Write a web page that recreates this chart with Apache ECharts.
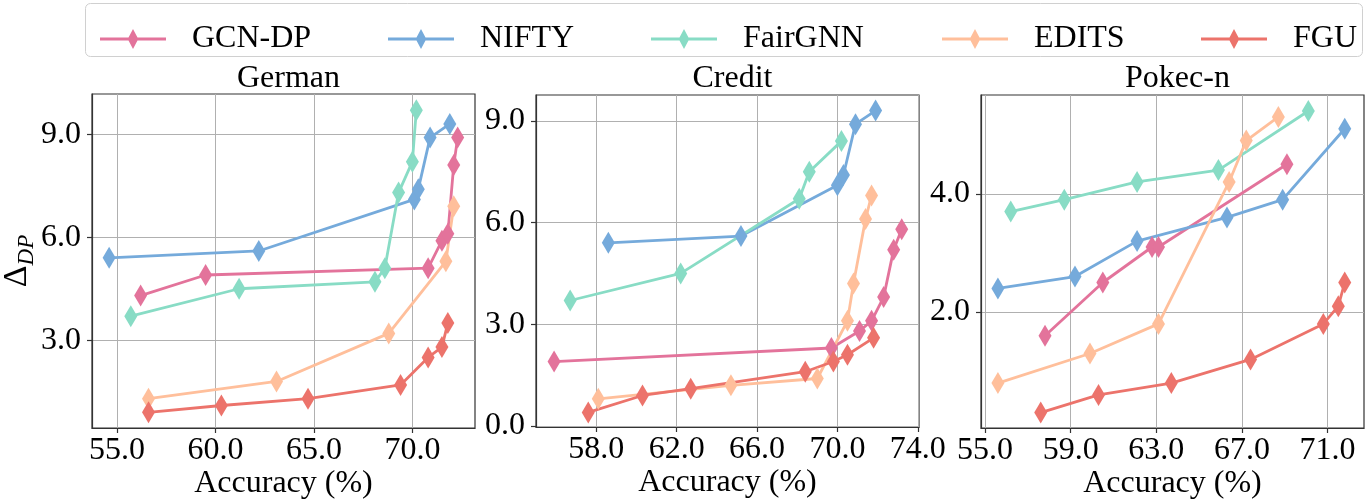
<!DOCTYPE html>
<html>
<head>
<meta charset="utf-8">
<script src="https://cdn.jsdelivr.net/npm/echarts@6/dist/echarts.min.js"></script>
<style>
html,body{margin:0;padding:0;background:#fff;}
#chart{width:1372px;height:499px;}
</style>
</head>
<body>
<div id="chart"></div>
<script>
// ---------------- data ----------------
const methods = ['GCN-DP', 'NIFTY', 'FairGNN', 'EDITS', 'FGU'];
const panels = ['German', 'Credit', 'Pokec-n'];

const germanGCN = [[56.2,4.3],[59.5,4.9],[70.8,5.1],[71.5,5.9],[71.8,6.1],[72.1,8.1],[72.3,8.9]];
const germanNIFTY = [[54.6,5.4],[62.2,5.6],[70.1,7.1],[70.3,7.4],[70.9,8.9],[71.9,9.3]];
const germanFairGNN = [[55.7,3.7],[61.2,4.5],[68.1,4.7],[68.6,5.1],[69.3,7.3],[70.0,8.2],[70.2,9.7]];
const germanEDITS = [[56.6,1.3],[63.1,1.8],[68.8,3.2],[71.7,5.3],[72.1,6.9]];
const germanFGU = [[56.6,0.9],[60.3,1.1],[64.7,1.3],[69.4,1.7],[70.8,2.5],[71.5,2.8],[71.8,3.5]];

const creditGCN = [[55.9,1.9],[69.7,2.3],[71.1,2.8],[71.7,3.1],[72.3,3.8],[72.8,5.2],[73.2,5.8]];
const creditNIFTY = [[58.6,5.4],[65.2,5.6],[70.0,7.1],[70.3,7.4],[70.9,8.9],[71.9,9.3]];
const creditFairGNN = [[56.7,3.7],[62.2,4.5],[68.1,6.7],[68.6,7.5],[70.2,8.4]];
const creditEDITS = [[58.1,0.8],[64.7,1.2],[69.0,1.4],[70.5,3.1],[70.8,4.2],[71.4,6.1],[71.7,6.8]];
const creditFGU = [[57.6,0.4],[60.3,0.9],[62.7,1.1],[68.4,1.6],[69.8,1.9],[70.5,2.1],[71.8,2.6]];

const pokecGCN = [[57.8,1.6],[60.5,2.5],[62.8,3.1],[63.1,3.1],[69.1,4.5]];
const pokecNIFTY = [[55.6,2.4],[59.2,2.6],[62.1,3.2],[66.3,3.6],[68.9,3.9],[71.8,5.1]];
const pokecFairGNN = [[56.2,3.7],[58.7,3.9],[62.1,4.2],[65.9,4.4],[70.1,5.4]];
const pokecEDITS = [[55.6,0.8],[59.9,1.3],[63.1,1.8],[66.4,4.2],[67.2,4.9],[68.7,5.3]];
const pokecFGU = [[57.6,0.3],[60.3,0.6],[63.7,0.8],[67.4,1.2],[70.8,1.8],[71.5,2.1],[71.8,2.5]];

// tick labels / axis ranges
const germanXTicks = [55, 60, 65, 70];
const germanYTicks = [3, 6, 9];
const creditXTicks = [58, 62, 66, 70, 74];
const creditYTicks = [0, 3, 6, 9];
const pokecXTicks = [55, 59, 63, 67, 71];
const pokecYTicks = [2, 4];
const germanRange = {x: [53.73, 73.18], y: [0.445, 10.17]};
const creditRange = {x: [55.0, 74.06], y: [-0.03, 9.76]};
const pokecRange = {x: [54.81, 72.70], y: [0.04, 5.67]};

// ---------------- styling ----------------
const FONT = "'Liberation Serif', 'Times New Roman', serif";
const FS = 32;
const colors = ['#e3739b', '#75aadb', '#88dcc5', '#ffbf9b', '#ec736b'];
const gridBoxes = [
  {left: 92, top: 94, width: 383, height: 334},
  {left: 536, top: 95, width: 383, height: 332},
  {left: 981, top: 95, width: 383, height: 333}
];
const panelData = [
  [germanGCN, germanNIFTY, germanFairGNN, germanEDITS, germanFGU],
  [creditGCN, creditNIFTY, creditFairGNN, creditEDITS, creditFGU],
  [pokecGCN, pokecNIFTY, pokecFairGNN, pokecEDITS, pokecFGU]
];
const xTicks = [germanXTicks, creditXTicks, pokecXTicks];
const yTicks = [germanYTicks, creditYTicks, pokecYTicks];
const ranges = [germanRange, creditRange, pokecRange];

const grid = gridBoxes.map(g => Object.assign({containLabel: false, outerBoundsMode: 'none', show: true, borderColor: '#333', borderWidth: 1.2, backgroundColor: 'transparent'}, g));

const axisLineStyle = {color: '#333', width: 1.2};
const xAxis = panels.map((p, i) => ({
  type: 'value', gridIndex: i,
  min: ranges[i].x[0], max: ranges[i].x[1],
  name: 'Accuracy (%)', nameLocation: 'middle', nameGap: 40, nameMoveOverlap: false,
  nameTextStyle: {fontFamily: FONT, fontSize: FS, color: '#000'},
  axisLine: {show: true, onZero: false, lineStyle: axisLineStyle},
  axisTick: {show: true, inside: false, length: 5, lineStyle: axisLineStyle, customValues: xTicks[i]},
  axisLabel: {show: true, margin: 7, fontFamily: FONT, fontSize: FS, color: '#000',
    customValues: xTicks[i], formatter: v => v.toFixed(1), showMinLabel: true, showMaxLabel: true, hideOverlap: false},
  splitLine: {show: true, lineStyle: {color: '#b0b0b0', width: 1}}
}));
const yAxis = panels.map((p, i) => ({
  type: 'value', gridIndex: i,
  min: ranges[i].y[0], max: ranges[i].y[1],
  name: i === 0 ? '{a|Δ}{b|DP}' : '', nameLocation: 'middle', nameGap: 54, nameRotate: 90, nameMoveOverlap: false,
  nameTextStyle: {fontFamily: FONT, color: '#000', padding: [0, 0, 0, 0],
    rich: {
      a: {fontFamily: FONT, fontSize: 34, color: '#000', lineHeight: 34, verticalAlign: 'top'},
      b: {fontFamily: FONT, fontSize: 23, fontStyle: 'italic', color: '#000', lineHeight: 38, verticalAlign: 'bottom'}
    }},
  axisLine: {show: true, onZero: false, lineStyle: axisLineStyle},
  axisTick: {show: true, inside: false, length: 5, lineStyle: axisLineStyle, customValues: yTicks[i]},
  axisLabel: {show: true, margin: 11, fontFamily: FONT, fontSize: FS, color: '#000',
    customValues: yTicks[i], formatter: v => v.toFixed(1)},
  splitLine: {show: true, lineStyle: {color: '#b0b0b0', width: 1}}
}));

const series = [];
panels.forEach((p, i) => {
  methods.forEach((m, k) => {
    series.push({
      name: m, type: 'line', xAxisIndex: i, yAxisIndex: i,
      data: panelData[i][k],
      symbol: 'diamond', symbolSize: [13, 22],
      lineStyle: {color: colors[k], width: 2.8},
      itemStyle: {color: colors[k]},
      showSymbol: true, clip: false, silent: true,
      emphasis: {disabled: true}
    });
  });
});

const title = panels.map((p, i) => ({
  text: p, left: gridBoxes[i].left + gridBoxes[i].width / 2, top: 58, textAlign: 'center',
  textStyle: {fontFamily: FONT, fontSize: FS, fontWeight: 'normal', color: '#000'}
}));

const legendLefts = [95, 383, 646, 937, 1196];
const legendIcon = 'path://M0,8.5L28.5,8.5L33,0L37.5,8.5L66,8.5L66,11.5L37.5,11.5L33,20L28.5,11.5L0,11.5Z';
const legend = methods.map((m, k) => ({
  data: [{name: m, icon: legendIcon}], left: legendLefts[k], top: 18,
  itemWidth: 66, itemHeight: 20, itemGap: 0, selectedMode: false,
  textStyle: {fontFamily: FONT, fontSize: FS, color: '#000', padding: [0, 0, 0, 21]}
}));

const option = {
  animation: false,
  backgroundColor: '#fff',
  color: colors,
  title, legend, grid, xAxis, yAxis, series,
  graphic: [{
    type: 'rect', z: -1, silent: true,
    shape: {x: 85.5, y: 3.5, width: 1277, height: 53, r: 5},
    style: {fill: '#fff', stroke: '#d0d0d0', lineWidth: 1}
  }]
};

const chart = echarts.init(document.getElementById('chart'), null, {renderer: 'canvas'});
chart.setOption(option);
</script>
</body>
</html>
